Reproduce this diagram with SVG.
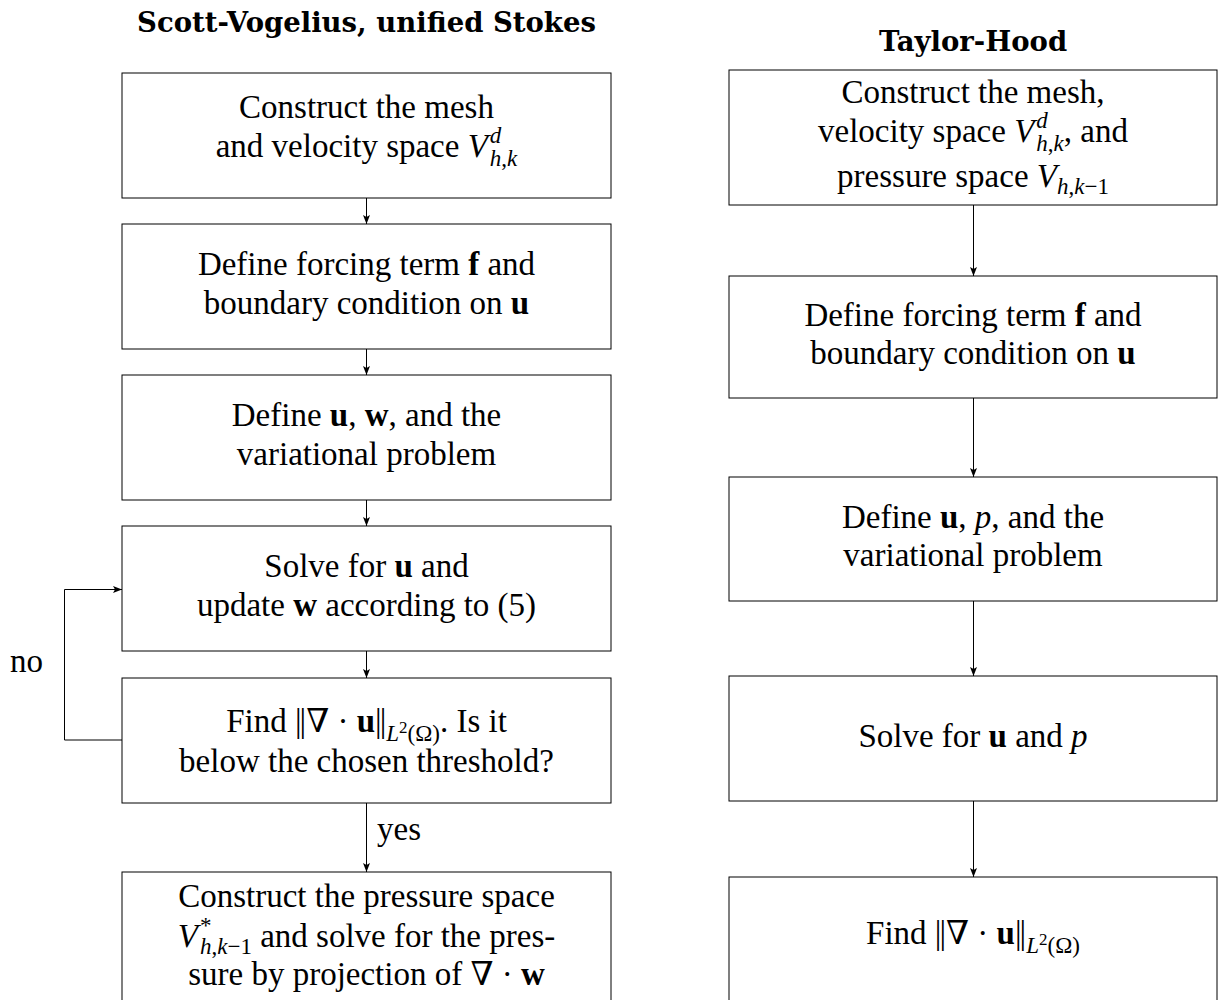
<svg xmlns="http://www.w3.org/2000/svg" width="1222" height="1000" viewBox="0 0 1222 1000">
<style>
.box{fill:#fff;stroke:#000;stroke-width:1}
.t{font-family:"Liberation Serif","DejaVu Serif",serif;font-size:33px;text-anchor:middle;fill:#000}
.l{text-anchor:start}
.h{font-family:"DejaVu Serif","Liberation Serif",serif;font-weight:bold;font-size:27.5px;text-anchor:middle;fill:#000}
.i{font-style:italic}
.b{font-weight:bold}
.s{font-size:23px}
.ss{font-size:17px}
.c{fill:none;stroke:#000;stroke-width:1}
</style>
<defs>
<marker id="ar" markerUnits="userSpaceOnUse" markerWidth="10" markerHeight="8" refX="9" refY="4" orient="auto">
<path d="M0,0.5 L9,4 L0,7.5 L2,4 z" fill="#000"/>
</marker>
</defs>
<rect width="1222" height="1000" fill="#fff"/>
<text class="h" x="366.5" y="32">Scott-Vogelius, unified Stokes</text>
<text class="h" x="973" y="51">Taylor-Hood</text>

<g id="connectors">
<line class="c" x1="366.5" y1="198" x2="366.5" y2="224" marker-end="url(#ar)"/>
<line class="c" x1="366.5" y1="349" x2="366.5" y2="375" marker-end="url(#ar)"/>
<line class="c" x1="366.5" y1="500" x2="366.5" y2="526" marker-end="url(#ar)"/>
<line class="c" x1="366.5" y1="651" x2="366.5" y2="678" marker-end="url(#ar)"/>
<line class="c" x1="366.5" y1="803" x2="366.5" y2="872" marker-end="url(#ar)"/>
<path class="c" d="M122,740 H64.5 V589.5 H122" marker-end="url(#ar)"/>
<line class="c" x1="973.5" y1="205" x2="973.5" y2="276" marker-end="url(#ar)"/>
<line class="c" x1="973.5" y1="398" x2="973.5" y2="477" marker-end="url(#ar)"/>
<line class="c" x1="973.5" y1="601" x2="973.5" y2="676" marker-end="url(#ar)"/>
<line class="c" x1="973.5" y1="801" x2="973.5" y2="877" marker-end="url(#ar)"/>
<text class="t l" x="10" y="672">no</text>
<text class="t l" x="377" y="840">yes</text>
</g>

<g id="sv1">
<rect class="box" x="122" y="73" width="489" height="125"/>
<text class="t" x="366.5" y="118">Construct the mesh</text>
<text class="t" x="366.5" y="157">and velocity space <tspan class="i">V</tspan><tspan class="i s" dx="2" dy="-14">d</tspan><tspan class="i s" dx="-11.5" dy="23">h</tspan><tspan class="s">,</tspan><tspan class="i s">k</tspan></text>
</g>
<g id="sv2">
<rect class="box" x="122" y="224" width="489" height="125"/>
<text class="t" x="366.5" y="275">Define forcing term <tspan class="b">f</tspan> and</text>
<text class="t" x="366.5" y="313.5">boundary condition on <tspan class="b">u</tspan></text>
</g>
<g id="sv3">
<rect class="box" x="122" y="375" width="489" height="125"/>
<text class="t" x="366.5" y="426">Define <tspan class="b">u</tspan>, <tspan class="b">w</tspan>, and the</text>
<text class="t" x="366.5" y="464.5">variational problem</text>
</g>
<g id="sv4">
<rect class="box" x="122" y="526" width="489" height="125"/>
<text class="t" x="366.5" y="577">Solve for <tspan class="b">u</tspan> and</text>
<text class="t" x="366.5" y="615.5">update <tspan class="b">w</tspan> according to (5)</text>
</g>
<g id="sv5">
<rect class="box" x="122" y="678" width="489" height="125"/>
<text class="t" x="366.5" y="732">Find |<tspan dx="-2">|</tspan>∇ · <tspan class="b">u</tspan>|<tspan dx="-2">|</tspan><tspan class="i s" dy="9">L</tspan><tspan class="ss" dy="-8">2</tspan><tspan class="s" dy="8">(Ω)</tspan><tspan dy="-9">.  Is it</tspan></text>
<text class="t" x="366.5" y="772">below the chosen threshold?</text>
</g>
<g id="sv6">
<rect class="box" x="122" y="872" width="489" height="140"/>
<text class="t" x="366.5" y="907">Construct the pressure space</text>
<text class="t" x="366.5" y="947"><tspan class="i">V</tspan><tspan class="s" dx="2" dy="-14">*</tspan><tspan class="i s" dx="-11.5" dy="21">h</tspan><tspan class="s">,</tspan><tspan class="i s">k</tspan><tspan class="s">−1</tspan><tspan dy="-7"> and solve for the pres-</tspan></text>
<text class="t" x="366.5" y="985">sure by projection of ∇ · <tspan class="b">w</tspan></text>
</g>

<g id="th1">
<rect class="box" x="729" y="70" width="488" height="135"/>
<text class="t" x="973" y="103">Construct the mesh,</text>
<text class="t" x="973" y="142">velocity space <tspan class="i">V</tspan><tspan class="i s" dx="2" dy="-14">d</tspan><tspan class="i s" dx="-11.5" dy="23">h</tspan><tspan class="s">,</tspan><tspan class="i s">k</tspan><tspan dy="-9">, and</tspan></text>
<text class="t" x="973" y="187">pressure space <tspan class="i">V</tspan><tspan class="i s" dy="7">h</tspan><tspan class="s">,</tspan><tspan class="i s">k</tspan><tspan class="s">−1</tspan></text>
</g>
<g id="th2">
<rect class="box" x="729" y="276" width="488" height="122"/>
<text class="t" x="973" y="325.5">Define forcing term <tspan class="b">f</tspan> and</text>
<text class="t" x="973" y="364">boundary condition on <tspan class="b">u</tspan></text>
</g>
<g id="th3">
<rect class="box" x="729" y="477" width="488" height="124"/>
<text class="t" x="973" y="527.5">Define <tspan class="b">u</tspan>, <tspan class="i">p</tspan>, and the</text>
<text class="t" x="973" y="566">variational problem</text>
</g>
<g id="th4">
<rect class="box" x="729" y="676" width="488" height="125"/>
<text class="t" x="973" y="747">Solve for <tspan class="b">u</tspan> and <tspan class="i">p</tspan></text>
</g>
<g id="th5">
<rect class="box" x="729" y="877" width="488" height="135"/>
<text class="t" x="973" y="944">Find |<tspan dx="-2">|</tspan>∇ · <tspan class="b">u</tspan>|<tspan dx="-2">|</tspan><tspan class="i s" dy="9">L</tspan><tspan class="ss" dy="-8">2</tspan><tspan class="s" dy="8">(Ω)</tspan></text>
</g>
</svg>
